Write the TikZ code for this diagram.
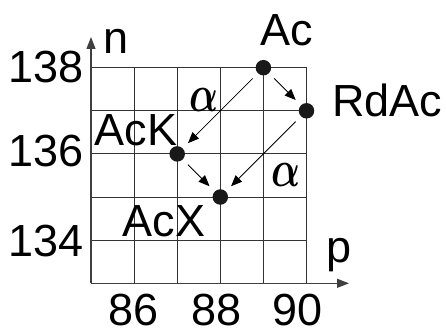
\documentclass[tikz,border=0pt]{standalone}
\usepackage{fontspec}
\setmainfont{Liberation Sans}
\usetikzlibrary{arrows.meta}
\begin{document}
\begin{tikzpicture}[x=1pt,y=-1pt,
  lbl/.style={inner sep=0pt,outer sep=0pt,font=\fontsize{45}{45}\selectfont},
  alph/.style={inner sep=0pt,outer sep=0pt},
  dot/.style={circle,fill=black!90,inner sep=0pt,outer sep=0pt,minimum size=15.5pt},
  gridline/.style={draw=black!80,line width=0.9pt},
  axis/.style={draw=black!75,line width=1.3pt,-{Triangle[length=12pt,width=9pt]}},
  conn/.style={draw=black,line width=0.8pt,-{Triangle[length=11pt,width=9pt]},shorten <=7.5pt,shorten >=7.5pt}]
\useasboundingbox (0,0) rectangle (446,331);
% grid
\foreach \i in {1,...,5} {
  \draw[gridline] ({91+43.1*\i},67.7) -- ({91+43.1*\i},283.3);
}
\foreach \j in {0,...,4} {
  \draw[gridline] (91,{67.7+43.1*\j}) -- (306.5,{67.7+43.1*\j});
}
% axes
\coordinate (O) at (91,283.3);
\coordinate (ytip) at (91,37);
\coordinate (xtip) at (349,283.3);
\draw[axis] (O) -- (ytip);
\draw[axis] (O) -- (xtip);
% axis labels
\node[lbl,anchor=base] (n) at (116.5,54) {n};
\node[lbl,anchor=base] (p) at (339,262) {p};
\node[lbl,anchor=base east] (y138) at (83.5,82.7) {138};
\node[lbl,anchor=base east] (y136) at (83.5,166.7) {136};
\node[lbl,anchor=base east] (y134) at (83.5,256) {134};
\node[lbl,anchor=base] (x86) at (133.3,325.8) {86};
\node[lbl,anchor=base] (x88) at (216.5,325.8) {88};
\node[lbl,anchor=base] (x90) at (298,325.8) {90};
% dots
\node[dot] (Ac) at (263.4,67.7) {};
\node[dot] (RdAc) at (306.5,110.8) {};
\node[dot] (AcK) at (177.2,153.9) {};
\node[dot] (AcX) at (220.3,197) {};
% labels
\node[lbl,anchor=base] (lAc) at (286.5,46) {Ac};
\node[lbl,anchor=base west] (lRdAc) at (332.4,116.7) {RdAc};
\node[lbl,anchor=base] (lAcK) at (136,145.7) {AcK};
\node[lbl,anchor=base] (lAcX) at (164,236.7) {AcX};
\node[alph] (a1) at (203.5,100) {\resizebox{29pt}{23pt}{\boldmath$\alpha$}};
\node[alph] (a2) at (286,175) {\resizebox{29pt}{23pt}{\boldmath$\alpha$}};
% connectors
\draw[conn] (Ac) -- (AcK);
\draw[conn] (Ac) -- (RdAc);
\draw[conn] (RdAc) -- (AcX);
\draw[conn] (AcK) -- (AcX);
\end{tikzpicture}
\end{document}
